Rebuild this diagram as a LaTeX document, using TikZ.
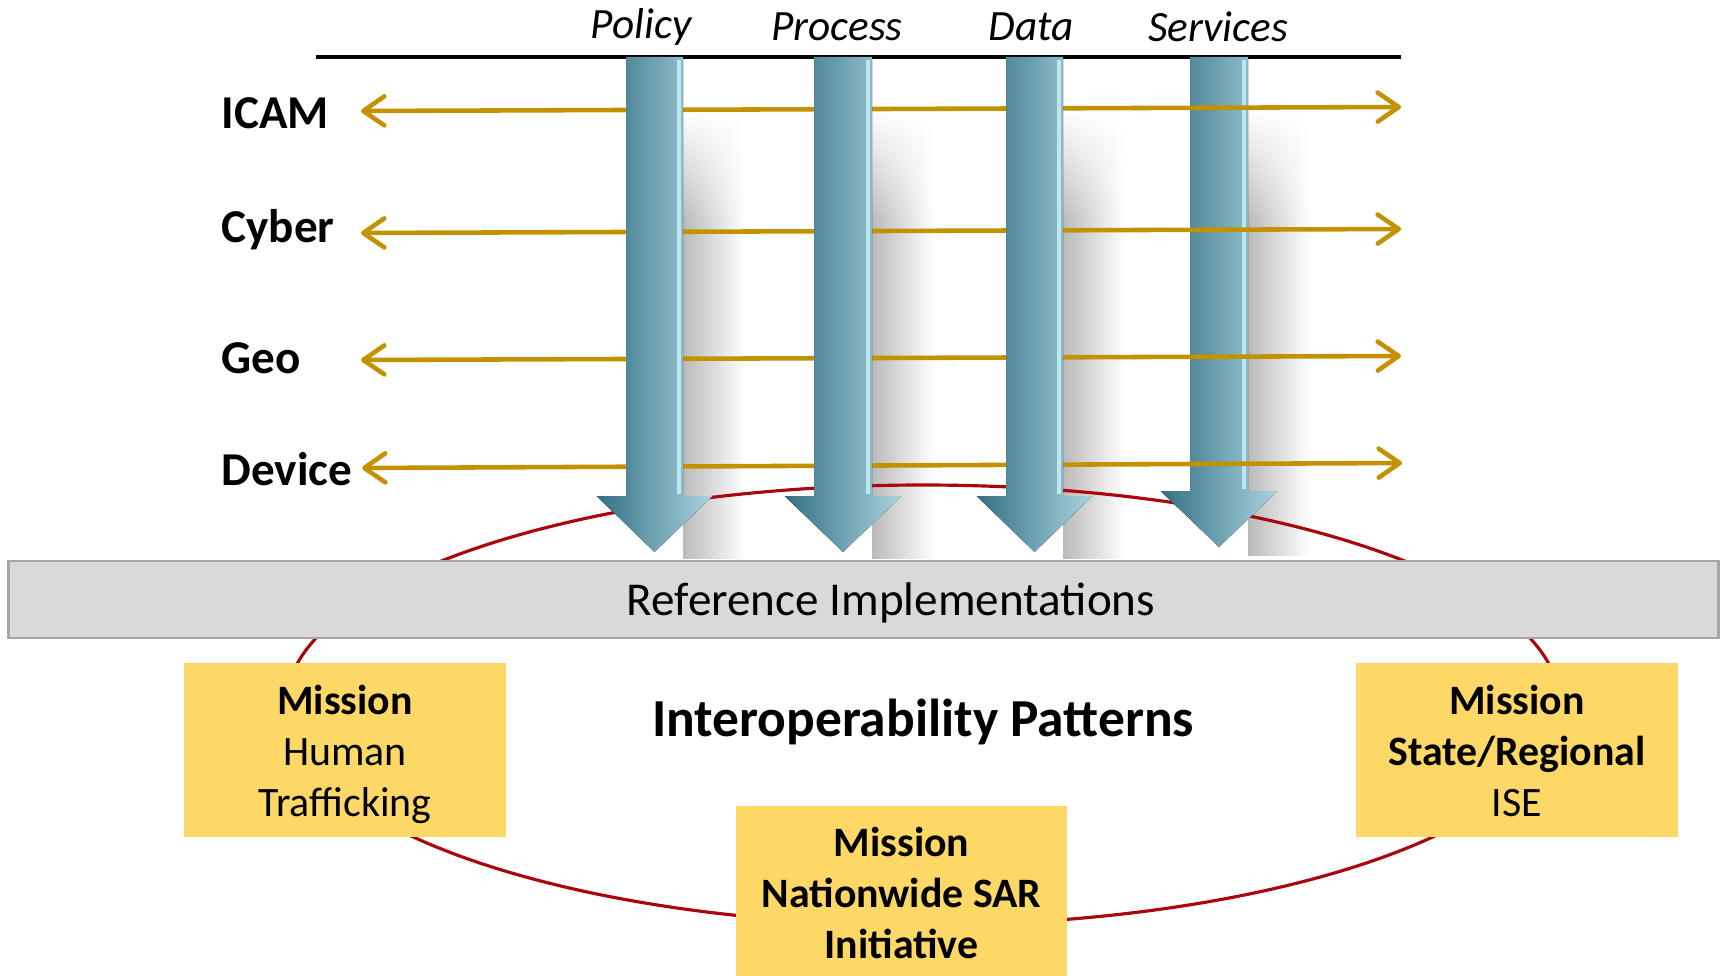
\documentclass[tikz,border=0pt]{standalone}
\usepackage{fontspec}
\setmainfont{Carlito}
\usetikzlibrary{arrows.meta,fadings}

\definecolor{goldtone}{RGB}{196,146,0}
\definecolor{ringred}{RGB}{170,6,14}
\definecolor{missionyellow}{RGB}{253,216,102}
\definecolor{bargrey}{RGB}{217,217,217}
\definecolor{bardraw}{RGB}{166,166,166}
\definecolor{tealdark}{RGB}{52,112,130}
\definecolor{teallight}{RGB}{170,212,225}
\definecolor{glintcyan}{RGB}{200,240,248}

\begin{document}
\begin{tikzpicture}[x=0.01cm, y=-0.01cm,
  colhead/.style={font=\fontsize{12.3}{14}\selectfont\itshape},
  rowhead/.style={anchor=west, inner sep=0pt, font=\fontsize{13.4}{16}\selectfont\bfseries},
  goldline/.style={draw=goldtone, line width=1.3pt, <->, >={Straight Barb[round, length=2.1mm, width=2.9mm]}},
  pillar/.style={left color=tealdark, right color=teallight, draw=none},
  glint/.style={draw=glintcyan, line width=1.2pt, opacity=0.85},
  pillarshadow/.style={left color=black!27, right color=white},
  mission/.style={align=center, font=\fontsize{11.9}{14.6}\selectfont}]

  \useasboundingbox (0,0) rectangle (1727,976);

  % Soft shadows to the right of the columns
  \shade[pillarshadow, path fading=north] (683,110) rectangle (745,220);
  \shade[pillarshadow] (683,220) rectangle (745,558);
  \shade[pillarshadow, path fading=north] (872,110) rectangle (934,220);
  \shade[pillarshadow] (872,220) rectangle (934,558);
  \shade[pillarshadow, path fading=north] (1063,110) rectangle (1125,220);
  \shade[pillarshadow] (1063,220) rectangle (1125,558);
  \shade[pillarshadow, path fading=north] (1248,110) rectangle (1310,220);
  \shade[pillarshadow] (1248,220) rectangle (1310,555);

  % The ring of interoperability patterns
  \draw[ringred, line width=0.9pt] (923,705) ellipse [x radius=637, y radius=220];

  % Column headings and the rule under them
  \node (policy) at (641,27) [colhead] {Policy};
  \node (process) at (837,27) [colhead] {Process};
  \node (data) at (1031,27) [colhead] {Data};
  \node (services) at (1218,27) [colhead] {Services};
  \draw[line width=0.9pt] (316,57) -- (1401,57);

  % Services column sits behind the horizontal arrows
  \fill[pillar] (1190,57) -- (1248,57) -- (1248,491) -- (1277.5,491) -- (1219,547) -- (1160.5,491) -- (1190,491) -- cycle;
  \draw[glint] (1244,60) -- (1244,489);

  % Row labels and the horizontal arrows
  \node (icam) at (221,113) [rowhead] {ICAM};
  \node (cyber) at (221,230) [rowhead] {Cyber};
  \node (geo) at (221,358) [rowhead] {Geo};
  \node (device) at (221,469) [rowhead] {Device};

  \coordinate (icamL) at (361,111);   \coordinate (icamR) at (1401,107);
  \coordinate (cyberL) at (361,233);  \coordinate (cyberR) at (1401,229);
  \coordinate (geoL) at (361,360);    \coordinate (geoR) at (1401,356);
  \coordinate (deviceL) at (362,468); \coordinate (deviceR) at (1402,463);

  \draw[goldline] (icamL) -- (icamR);
  \draw[goldline] (cyberL) -- (cyberR);
  \draw[goldline] (geoL) -- (geoR);
  \draw[goldline] (deviceL) -- (deviceR);

  % Policy, Process and Data columns in front of them
  \fill[pillar] (626,57) -- (683,57) -- (683,496) -- (712.5,496) -- (654.5,552) -- (596.5,496) -- (626,496) -- cycle;
  \draw[glint] (679,60) -- (679,494);
  \fill[pillar] (814,57) -- (872,57) -- (872,496) -- (901.5,496) -- (843,552) -- (784.5,496) -- (814,496) -- cycle;
  \draw[glint] (868,60) -- (868,494);
  \fill[pillar] (1006,57) -- (1063,57) -- (1063,496) -- (1092.5,496) -- (1034.5,552) -- (976.5,496) -- (1006,496) -- cycle;
  \draw[glint] (1059,60) -- (1059,494);

  % Reference implementations bar
  \node (refbar) at (863.5,599.5) [fill=bargrey, draw=bardraw, line width=0.6pt, minimum width=17.09cm, minimum height=0.77cm] {};
  \node (reftext) at (891,603) [font=\fontsize{13.4}{16}\selectfont] {Reference Implementations};

  % Missions on the ring
  \fill[missionyellow] (184,663) rectangle (506,837);
  \fill[missionyellow] (1356,663) rectangle (1678,837);
  \fill[missionyellow] (736,806) rectangle (1067,976);
  \node (trafficking) at (345,754.5) [mission] {\textbf{Mission}\\Human\\Trafficking};
  \node (regional) at (1517,751) [mission] {\textbf{Mission}\\\textbf{State/Regional}\\ISE};
  \node (sar) at (901.5,893) [mission] {\textbf{Mission}\\\textbf{Nationwide SAR}\\\textbf{Initiative}};

  \node (patterns) at (923,722) [font=\fontsize{15.2}{18}\selectfont\bfseries] {Interoperability Patterns};

\end{tikzpicture}
\end{document}
